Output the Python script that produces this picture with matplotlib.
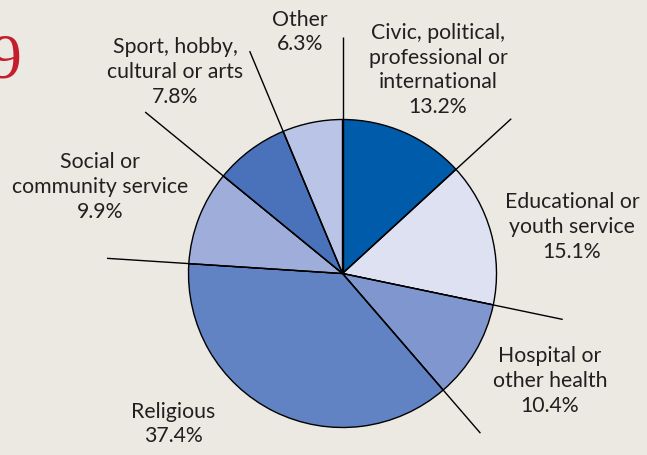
import numpy as np
import matplotlib
matplotlib.use("Agg")
import matplotlib.pyplot as plt

# Shares of volunteer activity by organisation type (percent), clockwise from 12 o'clock
categories = [
    "Civic, political,\nprofessional or\ninternational",
    "Educational or\nyouth service",
    "Hospital or\nother health",
    "Religious",
    "Social or\ncommunity service",
    "Sport, hobby,\ncultural or arts",
    "Other",
]
shares = [13.2, 15.1, 10.4, 37.4, 9.9, 7.8, 6.3]
colors = ["#005BAA", "#DDE1F2", "#8096CE", "#6283C3", "#9EADDA", "#4A72BB", "#BAC4E6"]

# Label anchor points (pixel coords, y measured from top)
label_pos = [(438, 70), (572, 227), (550, 381), (173, 424), (100, 187), (175, 72), (300, 32)]
# Length of each leader line past the pie, starting at the boundary that opens each slice
leader_len = [237, 229, 225, 211, 236, 255, 241]

W, H = 647, 455
BG = "#ECE9E3"
fig = plt.figure(figsize=(W / 100, H / 100), dpi=100, facecolor=BG)
ax = fig.add_axes([0, 0, 1, 1])
ax.set_facecolor(BG)

cx, cy = 342.5, H - 273.5
R = 154

ax.pie(shares, colors=colors, startangle=90, counterclock=False,
       center=(cx, cy), radius=R, frame=True,
       wedgeprops=dict(edgecolor="black", linewidth=1.0))

# Leader lines running from the centre along each slice boundary
bounds = np.concatenate([[0], np.cumsum(shares)[:-1]])
for b, L in zip(bounds, leader_len):
    ang = np.deg2rad(b / sum(shares) * 360.0)
    ax.plot([cx, cx + L * np.sin(ang)], [cy, cy + L * np.cos(ang)],
            color="black", lw=1.0, solid_capstyle="butt", zorder=5)

for name, v, (x, y) in zip(categories, shares, label_pos):
    ax.text(x, H - y, f"{name}\n{v}%", ha="center", va="center",
            fontsize=15.3, family="Lato", color="#231F20", linespacing=1.3)

# Page number fragment at the left edge
ax.text(22, H - 62, "9", ha="right", va="center", fontsize=46,
        family="Liberation Serif", color="#C41E2C")

ax.set_xlim(0, W)
ax.set_ylim(0, H)
ax.set_aspect("equal")
ax.axis("off")

fig.savefig("out.png", dpi=100, facecolor=BG)
